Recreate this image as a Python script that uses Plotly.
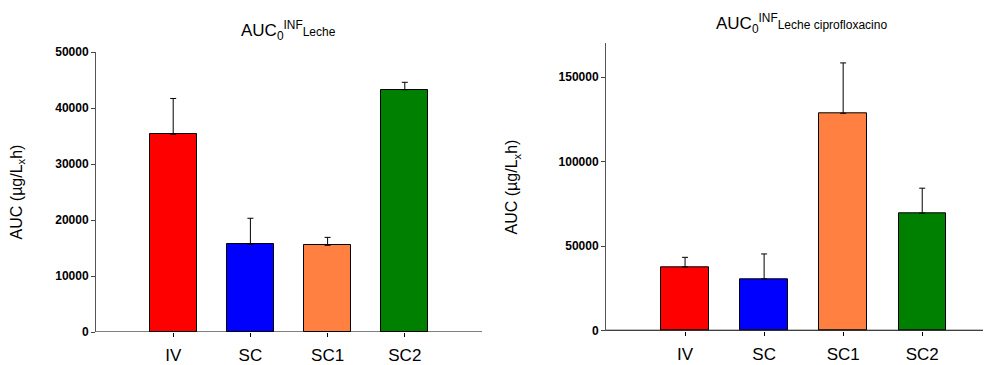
import plotly.graph_objects as go

categories = ["IV", "SC", "SC1", "SC2"]
colors = ["#FF0000", "#0000FF", "#FF8040", "#008000"]

leche_auc = [35300, 15660, 15480, 43270]
leche_err = [6400, 4650, 1420, 1320]

cipro_auc = [37700, 30600, 128600, 69500]
cipro_err = [5700, 14800, 29800, 14800]

left_ticks = [0, 10000, 20000, 30000, 40000, 50000]
right_ticks = [0, 50000, 100000, 150000]

# the page body has an 8px default margin: size the figure to fill the rest
OFF = 8
W, H = 991 - OFF, 365 - OFF
FONT = "Liberation Sans, Arial, sans-serif"

fig = go.Figure()

fig.add_trace(go.Bar(
    x=[0, 1, 2, 3], y=leche_auc, width=0.61,
    marker=dict(color=colors, line=dict(color="black", width=1)),
    error_y=dict(type="data", array=leche_err, arrayminus=[0]*4, symmetric=False,
                 color="black", thickness=1, width=3),
    xaxis="x", yaxis="y", showlegend=False))

fig.add_trace(go.Bar(
    x=[0, 1, 2, 3], y=cipro_auc, width=0.6,
    marker=dict(color=colors, line=dict(color="black", width=1)),
    error_y=dict(type="data", array=cipro_err, arrayminus=[0]*4, symmetric=False,
                 color="black", thickness=1, width=3),
    xaxis="x2", yaxis="y2", showlegend=False))

def px_x(p):
    return (p - OFF) / W

def px_y(p):
    return 1 - (p - OFF) / H

xcommon = dict(tickmode="array", tickvals=[0, 1, 2, 3], ticktext=categories,
               ticks="outside", ticklen=4, tickcolor="black", showgrid=False,
               zeroline=False, showline=False, automargin=False,
               tickfont=dict(family=FONT, size=17, color="black"),
               ticklabelstandoff=4)
ycommon = dict(ticks="outside", ticklen=4, tickcolor="#444", showgrid=False,
               zeroline=False, showline=True, linecolor="#555", linewidth=1,
               tickfont=dict(family="Liberation Sans", size=12, color="black",
                             weight=700),
               tickmode="array", automargin=False)

def ytitle(standoff):
    return dict(text="AUC (µg/L<sub>x</sub>h)", standoff=standoff,
                font=dict(family=FONT, size=16, color="black"))

fig.update_layout(
    width=W, height=H,
    margin=dict(l=0, r=0, t=0, b=0),
    plot_bgcolor="white", paper_bgcolor="white",
    bargap=0,
    xaxis=dict(domain=[px_x(96), px_x(482)], range=[-1, 4], anchor="y", **xcommon),
    yaxis=dict(domain=[px_y(332), px_y(52)], range=[0, 50000], anchor="x",
               tickvals=left_ticks, ticktext=[str(v) for v in left_ticks],
               title=ytitle(34), **ycommon),
    xaxis2=dict(domain=[px_x(606), 1.0], range=[-1, 3.87], anchor="y2", **xcommon),
    yaxis2=dict(domain=[px_y(330.7), px_y(43.3)], range=[0, 170000], anchor="x2",
                tickvals=right_ticks, ticktext=[str(v) for v in right_ticks],
                title=ytitle(36), **ycommon),
)

# x axis lines (baseline at y=0)
fig.add_shape(type="line", xref="x domain", yref="y", x0=0, x1=1, y0=0, y1=0,
              line=dict(color="black", width=1.2))
fig.add_shape(type="line", xref="x2 domain", yref="y2", x0=0, x1=1, y0=0, y1=0,
              line=dict(color="black", width=2))

fig.add_annotation(
    text="AUC<sub>0</sub><sup>INF</sup><span style='font-size:12px'>Leche</span>",
    xref="paper", yref="paper", x=px_x(288), y=px_y(30), showarrow=False,
    font=dict(family=FONT, size=17, color="black"), xanchor="center", yanchor="middle")
fig.add_annotation(
    text="AUC<sub>0</sub><sup>INF</sup><span style='font-size:12px'>Leche ciprofloxacino</span>",
    xref="paper", yref="paper", x=px_x(801), y=px_y(24), showarrow=False,
    font=dict(family=FONT, size=17, color="black"), xanchor="center", yanchor="middle")

fig.write_html("out.html")
